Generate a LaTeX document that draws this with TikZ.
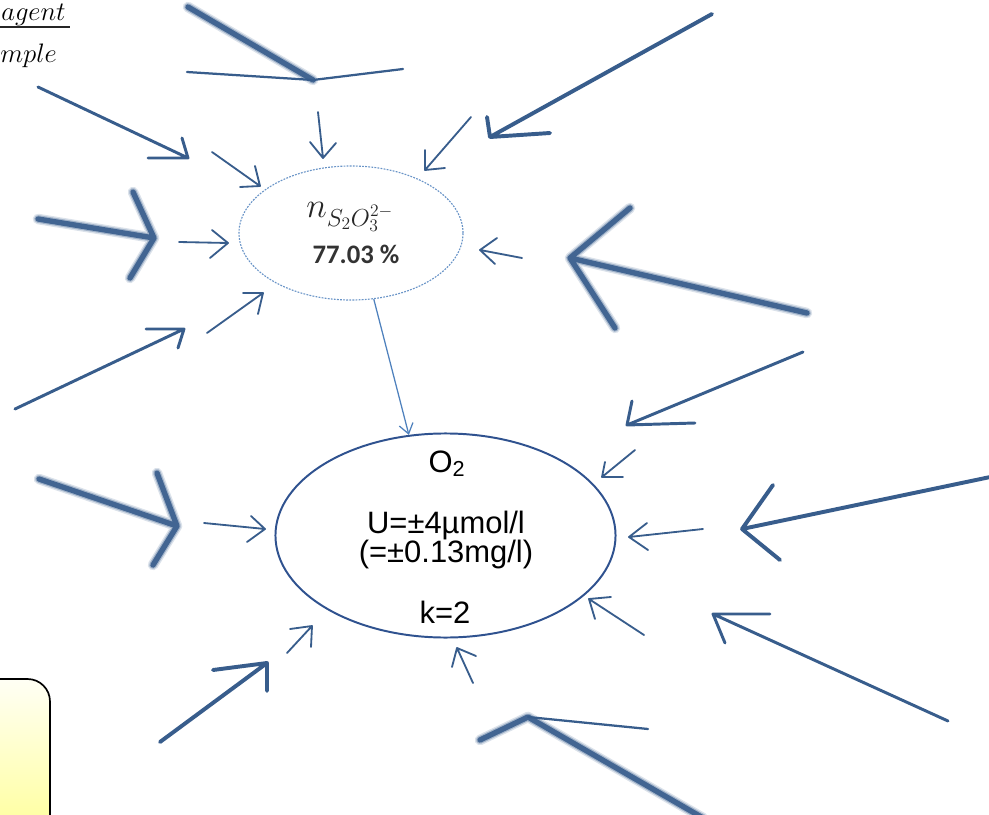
\documentclass[tikz,border=0pt]{standalone}
\usepackage{fix-cm}
\usepackage{fontspec}
\setmainfont{Liberation Sans}
\newfontfamily\calibri{Carlito}
\usetikzlibrary{arrows.meta,shapes.geometric}

\definecolor{arrowblue}{RGB}{56,93,140}
\definecolor{linkblue}{RGB}{79,129,189}
\definecolor{rimblue}{RGB}{47,82,143}

\tikzset{
  smallarrow/.style={draw=arrowblue, line width=1.3pt, line cap=round, line join=round},
  midarrow/.style={draw=arrowblue, line width=2.1pt, line cap=round, line join=round},
  bigarrow/.style={draw=arrowblue, line width=2.8pt, line cap=round, line join=round},
  blurhalo/.style={draw=arrowblue, line width=7.5pt, opacity=.18, line cap=round, line join=round},
  blurmid/.style={draw=arrowblue, line width=5.5pt, opacity=.35, line cap=round, line join=round},
  blurcore/.style={draw=arrowblue, line width=3.8pt, opacity=.9, line cap=round, line join=round},
  link/.style={draw=linkblue, line width=0.9pt, -{Straight Barb[length=7pt,width=10pt]}},
}

\begin{document}
\begin{tikzpicture}[x=0.025cm, y=-0.025cm]
    \useasboundingbox (0,0) rectangle (989,815);
    \clip (0,0) rectangle (989,815);

    % 1. Yellow box in the lower left corner
    \draw[line width=1.2pt, rounded corners=16pt, top color=yellow!4, bottom color=yellow!45]
        (-40,679) rectangle (50,860);

    % 2. Partial fraction in the upper left corner
    \node[anchor=base west, font=\fontsize{19}{21}\selectfont, inner sep=0] (ratiotop) at (1,20) {$agent$};
    \draw[line width=1.3pt, black!85] (0,27) -- (70,27);
    \node[anchor=base west, font=\fontsize{19}{21}\selectfont, inner sep=0] (ratiobot) at (0,62) {$mple$};

    % 3. Small arrows (tail / tip / wing / wing)
    \foreach \sx/\sy/\tx/\ty/\ax/\ay/\bx/\by in {
        212/152/260/186/255/166/240/187, 179/242/228/243/212/230/210/258,
        207/333/263/293/243/293/258/314, 471/117/425/170/425/150/445/168,
        318/112/323/158/310/142/336/143, 522/258/480/250/497/238/495/264,
        204/523/265/529/251/516/247/542, 287/653/312/626/290/629/311/647,
        473/683/457/648/452/667/476/656, 635/450/602/477/605/462/623/477,
        703/529/629/537/647/523/648/550, 644/635/589/599/611/597/595/619} {
        \draw[smallarrow] (\sx,\sy) -- (\tx,\ty) (\ax,\ay) -- (\tx,\ty) -- (\bx,\by);
    }

    % 4. Medium and big arrows
    \foreach \sx/\sy/\tx/\ty/\ax/\ay/\bx/\by in {
        38/87/188/158/182/138/148/158, 15/409/184/329/146/329/178/348,
        803/352/627/425/632/401/695/423, 948/721/713/614/770/614/725/643} {
        \draw[midarrow] (\sx,\sy) -- (\tx,\ty) (\ax,\ay) -- (\tx,\ty) -- (\bx,\by);
    }
    \foreach \sx/\sy/\tx/\ty/\ax/\ay/\bx/\by in {
        712/14/490/137/487/117/550/133, 160/742/267/663/213/670/267/691,
        995/476/742/529/773/485/780/560} {
        \draw[bigarrow] (\sx,\sy) -- (\tx,\ty) (\ax,\ay) -- (\tx,\ty) -- (\bx,\by);
    }

    % 5. Blurred arrows
    \foreach \sx/\sy/\tx/\ty/\ax/\ay/\bx/\by in {
        38/219/154/238/133/192/130/278, 807/313/570/258/630/208/615/328,
        39/479/177/526/157/473/153/565} {
        \foreach \layer in {blurhalo, blurmid, blurcore}
            \draw[\layer] (\sx,\sy) -- (\tx,\ty) (\ax,\ay) -- (\tx,\ty) -- (\bx,\by);
    }
    \foreach \layer in {blurhalo, blurmid, blurcore} {
        \draw[\layer] (188,7) -- (313,80);
        \draw[\layer] (703,818) -- (528,717) -- (480,740);
    }
    \draw[smallarrow, line width=1.6pt] (187,72) -- (313,80) -- (403,69);
    \draw[smallarrow, line width=1.6pt] (528,717) -- (648,729);

    % 6. The two ellipses
    \node[ellipse, draw=linkblue!85, line width=0.8pt, dash pattern=on 1.3pt off 0.9pt,
          minimum width=5.6cm, minimum height=3.35cm, inner sep=0] (thio) at (351,233) {};
    \node[ellipse, draw=rimblue, line width=1.4pt,
          minimum width=8.5cm, minimum height=5.1cm, inner sep=0] (oxy) at (445.5,535.5) {};

    \node[anchor=base, font=\fontsize{25}{27}\selectfont, text=black!85, inner sep=0pt] (thiolabel) at (350,217) {$n_{S_2O_3^{2-}}$};
    \node[anchor=base, font=\calibri\bfseries\fontsize{19}{21}\selectfont, text=black!80, inner sep=0pt] (thioshare) at (356,263) {77.03 \%};

    \node[anchor=base, font=\fontsize{22}{24}\selectfont] (oxyname) at (447,472) {O\textsubscript{2}};
    \node[anchor=base, font=\fontsize{22}{24}\selectfont] (oxyu) at (446,533) {U=±4µmol/l};
    \node[anchor=base, font=\fontsize{22}{24}\selectfont] (oxymg) at (446,562) {(=±0.13mg/l)};
    \node[anchor=base, font=\fontsize{22}{24}\selectfont] (oxyk) at (445,623) {k=2};

    % 7. Connector between the ellipses
    \draw[link] (thio.-71) -- (oxy.110);
\end{tikzpicture}
\end{document}
